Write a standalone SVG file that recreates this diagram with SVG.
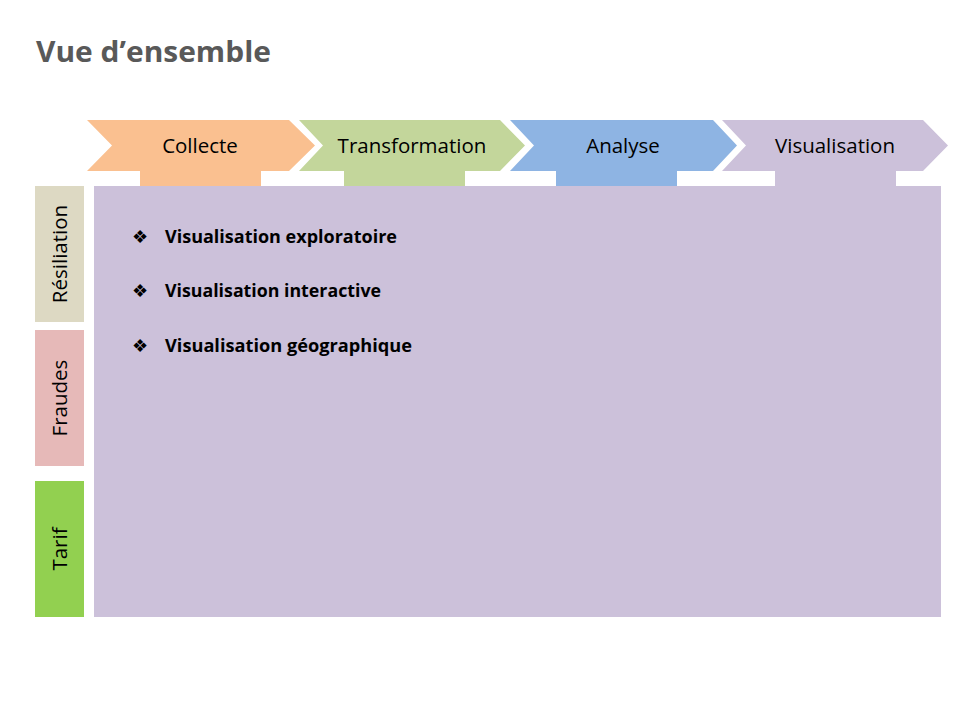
<svg xmlns="http://www.w3.org/2000/svg" width="960" height="720" viewBox="0 0 960 720">
  <style>
    .title { font-family: "Open Sans", "Liberation Sans", sans-serif; font-weight: bold; font-size: 29px; fill: #595959; }
    .step { font-family: "Open Sans", "Liberation Sans", sans-serif; font-size: 20.5px; fill: #000; text-anchor: middle; }
    .side { font-family: "Open Sans", "Liberation Sans", sans-serif; font-size: 20.5px; fill: #000; text-anchor: middle; }
    .item { font-family: "Open Sans", "Liberation Sans", sans-serif; font-weight: bold; font-size: 17.5px; fill: #000; }
    .bullet { font-family: "DejaVu Sans", sans-serif; font-size: 18px; fill: #000; }
  </style>
  <rect width="960" height="720" fill="#ffffff"/>

  <text class="title" x="36" y="62" textLength="235" lengthAdjust="spacingAndGlyphs">Vue d’ensemble</text>

  <!-- process chevrons with tabs -->
  <g id="collecte">
    <polygon points="87,120 289,120 315,145.5 289,171 87,171 112,145.5" fill="#FAC090"/>
    <rect x="140" y="170" width="121" height="17" fill="#FAC090"/>
    <text class="step" x="200" y="152.5">Collecte</text>
  </g>
  <g id="transformation">
    <polygon points="299,120 500,120 525,145.5 500,171 299,171 323,145.5" fill="#C3D69B"/>
    <rect x="344" y="170" width="121" height="17" fill="#C3D69B"/>
    <text class="step" x="412" y="152.5">Transformation</text>
  </g>
  <g id="analyse">
    <polygon points="510,120 713,120 737,145.5 713,171 510,171 534,145.5" fill="#8EB4E3"/>
    <rect x="556" y="170" width="121" height="17" fill="#8EB4E3"/>
    <text class="step" x="623" y="152.5">Analyse</text>
  </g>
  <g id="visualisation">
    <polygon points="722,120 923,120 948,145.5 923,171 722,171 746,145.5" fill="#CCC1DA"/>
    <rect x="775" y="170" width="121" height="17" fill="#CCC1DA"/>
    <text class="step" x="835" y="152.5">Visualisation</text>
  </g>

  <!-- content panel -->
  <g id="panel">
    <rect x="94" y="186" width="847" height="431" fill="#CCC1DA"/>
    <text class="bullet" x="132" y="243">❖</text>
    <text class="item" x="165" y="243" textLength="232" lengthAdjust="spacingAndGlyphs">Visualisation exploratoire</text>
    <text class="bullet" x="132" y="297">❖</text>
    <text class="item" x="165" y="297" textLength="216" lengthAdjust="spacingAndGlyphs">Visualisation interactive</text>
    <text class="bullet" x="132" y="352">❖</text>
    <text class="item" x="165" y="352" textLength="247" lengthAdjust="spacingAndGlyphs">Visualisation géographique</text>
  </g>

  <!-- row labels -->
  <g id="resiliation">
    <rect x="35" y="186" width="49" height="136" fill="#DDD9C3"/>
    <text class="side" transform="translate(67,254) rotate(-90)">Résiliation</text>
  </g>
  <g id="fraudes">
    <rect x="35" y="330" width="49" height="136" fill="#E6B9B8"/>
    <text class="side" transform="translate(67,398) rotate(-90)">Fraudes</text>
  </g>
  <g id="tarif">
    <rect x="35" y="481" width="49" height="136" fill="#92D050"/>
    <text class="side" transform="translate(67,549) rotate(-90)">Tarif</text>
  </g>

  <g id="connectors"/>
</svg>
